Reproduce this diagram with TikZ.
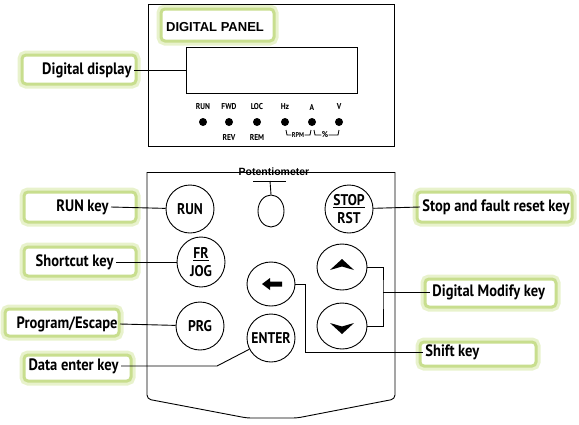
\documentclass[tikz,border=0pt]{standalone}
\usepackage{fontspec}
\setmainfont{PT Sans}
\newfontfamily\lblfont[FakeStretch=0.88]{PT Sans}
\newfontfamily\panelfont{Liberation Sans}
\usetikzlibrary{shapes, positioning, calc}
\definecolor{glowin}{RGB}{200,222,142}
\definecolor{glowout}{RGB}{232,242,204}

\begin{document}
\begin{tikzpicture}[x=1pt, y=-1pt, line width=0.9pt,
            glow/.style={fill=white, draw=glowin, line width=3pt, rounded corners=4pt, preaction={draw=glowout, line width=9pt}},
            lbl/.style={font=\lblfont\bfseries\fontsize{16.5}{18}\selectfont, inner sep=2pt},
            btn/.style={ellipse, draw, minimum width=48pt, minimum height=48pt, inner sep=0pt, font=\lblfont\bfseries\fontsize{15.5}{15}\selectfont, align=center},
            ind/.style={font=\lblfont\bfseries\fontsize{8.5}{9}\selectfont, inner sep=0pt},
            dot/.style={circle, fill, minimum size=8pt, inner sep=0pt},
            con/.style={draw, line width=0.9pt}]
            \useasboundingbox (0,0) rectangle (579,424);
            \foreach \a/\b/\c/\d in {161/9/274/41, 22/55/136/84, 24/192/136/222, 24/247/136/276, 5/309/119/336,
                24/355/131/381, 417/192/572/222, 425/279/556/307, 420/342/536/366}
                { \draw[glow] (\a,\b) rectangle (\c,\d); }
            \draw (148,4) rectangle (394,146);
            \node[font=\panelfont\bfseries\fontsize{13}{15}\selectfont] (dpt) at (215,27) {DIGITAL PANEL};
            \node[draw, minimum width=171pt, minimum height=46pt] (disp) at (271.5,70) {};
            \foreach \x/\t [count=\i] in {203/RUN, 229/FWD, 257/LOC, 285/Hz, 312/A, 339/V} {
                \node[ind] (t\i) at (\x,107) {\t};
                \node[dot] (d\i) at (\x,122) {};
            }
            \node[ind] (rev) at (229,137) {REV};
            \node[ind] (rem) at (257,137) {REM};
            \node[ind, font=\lblfont\bfseries\fontsize{7}{7}\selectfont] (rpm) at (298,135) {RPM};
            \node[ind] (pct) at (325,135) {\%};
            \draw[line width=0.8pt] (286,130) -- (287,135) -- (rpm.west) (rpm.east) -- (310,135) -- (311,130);
            \draw[line width=0.8pt] (314,130) -- (315,135) -- (pct.west) (pct.east) -- (338,135) -- (339,130);
            \draw (147,172) -- (395,172);
            \draw[rounded corners=4pt] (147,172) -- (147,399) -- (247,418) -- (297,418) -- (395,399) -- (395,172);
            \node[font=\panelfont\bfseries\fontsize{10.5}{11}\selectfont, inner sep=0pt] (pott) at (274,172) {Potentiometer};
            \node[ellipse, draw, minimum width=26pt, minimum height=32pt] (pot) at (271,211) {};
            \coordinate (potbar) at (270,181);
            \draw ([xshift=-17pt]potbar) -- ([xshift=16pt]potbar);
            \draw (potbar) -- (pot.north);
            \node[btn] (run) at (190,209) {RUN};
            \node[btn, minimum height=50pt] (frjog) at (201,262) {\underline{FR}\\[3pt]JOG};
            \node[btn] (prg) at (200,326) {PRG};
            \node[btn] (enter) at (271,338) {\makebox[0pt]{ENTER}};
            \node[btn, minimum height=44pt] (lft) at (271,284) {};
            \node[btn] (stop) at (349,209) {\underline{STOP}\\[3pt]RST};
            \node[btn, minimum width=50pt, minimum height=46pt] (up) at (342,267) {};
            \node[btn, minimum width=50pt, minimum height=46pt] (down) at (342,326) {};
            \fill (lft.center) ++(-9,0) -- ++(8,-6) -- ++(0,3.5) -- ++(12,0) -- ++(0,5) -- ++(-12,0) -- ++(0,3.5) -- cycle;
            \fill (up.center) ++(0,-8) -- ++(12,11) -- ++(-12,-3.5) -- ++(-12,3.5) -- cycle;
            \fill (down.center) ++(0,8) -- ++(12,-11) -- ++(-12,3.5) -- ++(-12,-3.5) -- cycle;
            \node[lbl, anchor=east] (ddt) at (134,70) {Digital display};
            \node[lbl, anchor=east] (runt) at (111,207) {RUN key};
            \node[lbl, anchor=east] (sct) at (116,262) {Shortcut key};
            \node[lbl, anchor=east] (pet) at (120,324) {Program/Escape};
            \node[lbl, anchor=east] (det) at (121,366) {Data enter key};
            \node[lbl, anchor=west] (sft) at (420,207) {Stop and fault reset key};
            \node[lbl, anchor=west] (dmt) at (430,292) {Digital Modify key};
            \node[lbl, anchor=west] (skt) at (423,352) {Shift key};
            \draw[con] (ddt.east) -- (ddt.east -| disp.west);
            \draw[con] (runt.east) -- (run);
            \draw[con] (sct.east) -- (frjog);
            \draw[con] (pet.east) -- (prg);
            \draw[con] (det.east) -- ++(96,0) -- (enter);
            \draw[con] (stop) -- (sft.west);
            \coordinate (br) at (383,292);
            \draw[con] (up.east) -| (br) |- (down.east);
            \draw[con] (br) -- (dmt.west);
            \draw[con] (lft.east) -- ++(10,0) |- (skt.west);
        \end{tikzpicture}
\end{document}
